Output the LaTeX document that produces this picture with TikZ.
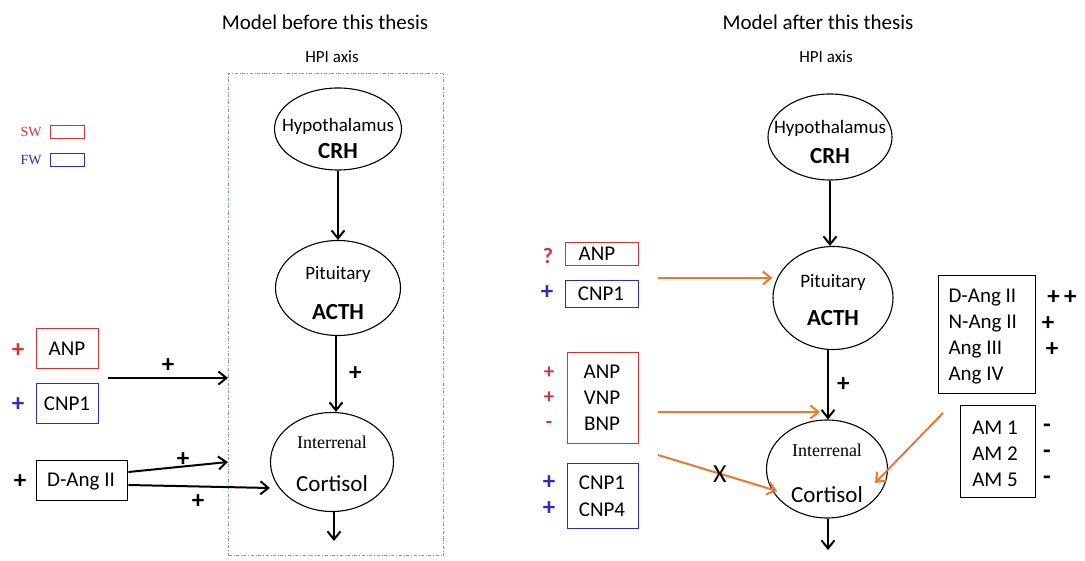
\documentclass[tikz,border=0pt]{standalone}
\usepackage{fontspec}
\setmainfont{Carlito}
\newfontfamily\serif{Liberation Serif}
\usetikzlibrary{arrows.meta,shapes.geometric}
\definecolor{swred}{RGB}{205,55,55}
\definecolor{fwblue}{RGB}{45,45,185}
\definecolor{arrorange}{RGB}{232,122,45}
\definecolor{axisgrey}{RGB}{120,150,195}
\begin{document}
\begin{tikzpicture}[x=1pt,y=-1pt,
  organ/.style={draw,ellipse,line width=1.1pt,minimum width=#1,inner sep=0pt},
  sbox/.style={draw,line width=1.4pt,inner sep=0pt,anchor=north west},
  lbl/.style={font=\fontsize{21}{24}\selectfont},
  sgn/.style={font=\fontsize{25}{26}\selectfont\bfseries,inner sep=0pt},
  msgn/.style={font=\fontsize{21}{22}\selectfont\bfseries,inner sep=0pt},
  blk/.style={-{Straight Barb[length=8pt,width=13pt]},line width=2pt},
  org/.style={-{Straight Barb[length=8pt,width=13pt]},line width=2pt,arrorange},
  ttl/.style={font=\fontsize{21}{24}\selectfont},
  ax/.style={font=\fontsize{17}{20}\selectfont},
  upper/.style={font=\fontsize{19}{22}\selectfont},
  bold/.style={font=\fontsize{23}{26}\selectfont\bfseries},
  ser/.style={font=\serif\fontsize{18}{20}\selectfont},
  cort/.style={font=\fontsize{23}{26}\selectfont},
]
\fill[white] (0,0) rectangle (1085,561);
\useasboundingbox (0,0) rectangle (1085,561);

% titles
\node[ttl] (t1) at (325,22) {Model before this thesis};
\node[ttl] (t2) at (818,22) {Model after this thesis};
\node[ax] (hpi1) at (332,57) {HPI axis};
\node[ax] (hpi2) at (826,57) {HPI axis};

% legend
\node[swred,font=\serif\fontsize{14}{16}\selectfont] (swt) at (31,132) {SW};
\node[sbox,swred,line width=1.2pt,minimum width=34pt,minimum height=13pt] (swb) at (50,125) {};
\node[fwblue,font=\serif\fontsize{14}{16}\selectfont] (fwt) at (31,160) {FW};
\node[sbox,fwblue,line width=1.2pt,minimum width=34pt,minimum height=13pt] (fwb) at (50,153) {};

% HPI box (left)
\node[draw=axisgrey,dash dot,line width=1.3pt,anchor=north west,minimum width=215pt,minimum height=482pt,inner sep=0pt] (axis) at (228,73) {};

% left organs
\node[organ=127pt,minimum height=82pt] (hyp1) at (338,129) {};
\node[upper] (hyp1a) at (338,126) {Hypothalamus};
\node[bold] (hyp1b) at (338,151) {CRH};
\node[organ=125pt,minimum height=95pt] (pit1) at (338,288) {};
\node[upper] (pit1a) at (338,274) {Pituitary};
\node[bold] (pit1b) at (338,312) {ACTH};
\node[organ=123pt,minimum height=99pt] (int1) at (332,462) {};
\node[ser] (int1a) at (332,442) {Interrenal};
\node[cort] (int1b) at (332,484) {Cortisol};
\coordinate (out1) at (333,541);

\draw[blk] (hyp1.south) -- (pit1.north);
\draw[blk] (pit1.south -| 336,0) -- (int1.north -| 336,0) node[midway,right=12pt,sgn] {+};
\draw[blk] (int1.south -| 334,0) -- (out1 -| 334,0);

% left inputs
\node[sbox,swred,minimum width=62pt,minimum height=40pt] (anp1) at (36,328) {};
\node[lbl] (anp1t) at (67,349) {ANP};
\node[sgn,swred] (anp1s) at (18,351) {+};
\node[sbox,fwblue,minimum width=62pt,minimum height=40pt] (cnp1) at (36,383) {};
\node[lbl] (cnp1t) at (67,404) {CNP1};
\node[sgn,fwblue] (cnp1s) at (18,405) {+};
\node[sbox,minimum width=91pt,minimum height=40pt] (dang1) at (36,460) {};
\node[lbl] (dang1t) at (81,482) {D-Ang II};
\node[sgn] (dang1s) at (20,482) {+};

\coordinate (natstart) at (108,378);
\draw[blk] (natstart) -- (natstart -| axis.west) node[midway,above=4pt,sgn] {+};
\coordinate (d1end) at (228,462);
\draw[blk] (dang1.east |- 0,472) -- (d1end) node[pos=0.55,above=-1pt,sgn] {+};
\draw[blk] (dang1.east |- 0,485) -- (int1.west |- 0,488);
\node[sgn] (dplus) at (198,502) {+};

% right organs
\node[organ=124pt,minimum height=86pt] (hyp2) at (830,137) {};
\node[upper] (hyp2a) at (830,128) {Hypothalamus};
\node[bold] (hyp2b) at (830,156) {CRH};
\node[organ=120pt,minimum height=103pt] (pit2) at (833,298) {};
\node[upper] (pit2a) at (833,282) {Pituitary};
\node[bold] (pit2b) at (833,318) {ACTH};
\node[organ=121pt,minimum height=98pt] (int2) at (827,469) {};
\node[ser] (int2a) at (827,450) {Interrenal};
\node[cort] (int2b) at (827,495) {Cortisol};
\coordinate (out2) at (828,550);

\draw[blk] (hyp2.south -| 830,0) -- (pit2.north -| 830,0);
\draw[blk] (pit2.south -| 828,0) -- (int2.north -| 828,0) node[midway,right=8pt,sgn] {+};
\draw[blk] (int2.south -| 828,0) -- (out2);

% right inputs
\node[sbox,swred,minimum width=73pt,minimum height=23pt] (anp2) at (565,242) {};
\node[lbl] (anp2t) at (597,254) {ANP};
\node[swred,font=\fontsize{22}{24}\selectfont\bfseries] (anp2s) at (548,256) {?};
\node[sbox,fwblue,minimum width=73pt,minimum height=27pt] (cnp2) at (565,280) {};
\node[lbl] (cnp2t) at (601,294) {CNP1};
\node[sgn,fwblue] (cnp2s) at (547,293) {+};

\node[sbox,swred,minimum width=71pt,minimum height=91pt] (np2) at (567,352) {};
\node[lbl] (np2a) at (602,372) {ANP};
\node[lbl] (np2b) at (602,398) {VNP};
\node[lbl] (np2c) at (602,424) {BNP};
\node[msgn,swred] (np2as) at (549,373) {+};
\node[msgn,swred] (np2bs) at (549,398) {+};
\node[msgn,swred] (np2cs) at (549,425) {-};

\node[sbox,fwblue,minimum width=71pt,minimum height=65pt] (cnp4) at (567,463) {};
\node[lbl] (cnp4a) at (602,483) {CNP1};
\node[lbl] (cnp4b) at (602,510) {CNP4};
\node[sgn,fwblue] (cnp4as) at (549,483) {+};
\node[sgn,fwblue] (cnp4bs) at (549,509) {+};

\node[sbox,minimum width=97pt,minimum height=118pt] (ang) at (938,275) {};
\node[lbl,anchor=west] (anga) at (945,298) {D-Ang II};
\node[lbl,anchor=west] (angb) at (945,324) {N-Ang II};
\node[lbl,anchor=west] (angc) at (945,350) {Ang III};
\node[lbl,anchor=west] (angd) at (945,376) {Ang IV};
\node[sgn] (angas) at (1062,298) {+\,+};
\node[sgn] (angbs) at (1048,324) {+};
\node[sgn] (angcs) at (1052,350) {+};

\node[sbox,minimum width=75pt,minimum height=92pt] (am) at (960,405) {};
\node[lbl] (ama) at (995,428) {AM 1};
\node[lbl] (amb) at (995,454) {AM 2};
\node[lbl] (amc) at (995,480) {AM 5};
\node[sgn] (amas) at (1047,428) {-};
\node[sgn] (ambs) at (1047,454) {-};
\node[sgn] (amcs) at (1047,480) {-};

% orange arrows
\coordinate (o1s) at (658,278);
\coordinate (o2s) at (658,412);
\coordinate (o2e) at (820,412);
\coordinate (o3s) at (658,455);
\coordinate (o4s) at (943,413);
\draw[org] (o1s) -- (pit2.west |- o1s);
\draw[org] (o2s) -- (o2e);
\draw[org] (o3s) -- (777,491) node[pos=0.52,font=\fontsize{26}{26}\selectfont,black] (xmark) {X};
\draw[org] (o4s) -- (875,483);
\end{tikzpicture}
\end{document}
